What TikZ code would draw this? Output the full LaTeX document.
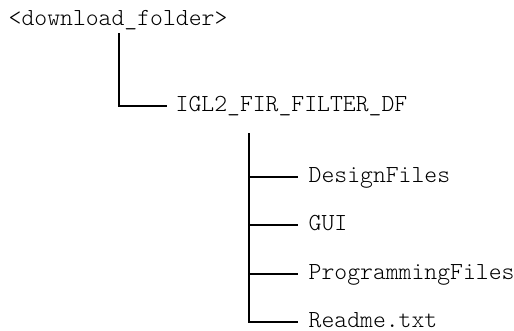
\documentclass[tikz,border=0pt]{standalone}
\usepackage{fontspec}
\setmonofont{Latin Modern Mono Light}
\usepackage{xcolor}
\usepackage{tikz}
\usetikzlibrary{positioning}

\begin{document}
\begin{tikzpicture}[x=1pt,y=1pt]
	\tikzstyle{folder}=[anchor=west,inner sep=0pt,text height=11pt,text depth=0pt,font=\ttfamily\fontsize{24.5}{28}\selectfont]
	\tikzstyle{branch}=[draw=black,line width=1.8pt,shorten >=11pt]
	\useasboundingbox (0,0) rectangle (514,330);
	\node[folder](root) at (8.5,309.5){<download\_folder>};
	\node[folder](igl) at (175.5,224){IGL2\_FIR\_FILTER\_DF};
	\node[folder](design) at (308.5,153){DesignFiles};
	\node[folder](gui) at (308.5,105){GUI};
	\node[folder](prog) at (308.5,56){ProgrammingFiles};
	\node[folder](readme) at (308.5,8){Readme.txt};
	\coordinate (trunk) at ([xshift=73.5pt,yshift=-21.5pt]igl.south west);
	\draw[branch,shorten >=9pt] ([xshift=110.5pt,yshift=-7pt]root.south west) |- (igl.west);
	\draw[branch] (trunk) |- (readme.west);
	\path[-]
		(trunk |- design.west) edge[branch] (design.west)
		(trunk |- gui.west) edge[branch] (gui.west)
		(trunk |- prog.west) edge[branch] (prog.west);
\end{tikzpicture}
\end{document}
